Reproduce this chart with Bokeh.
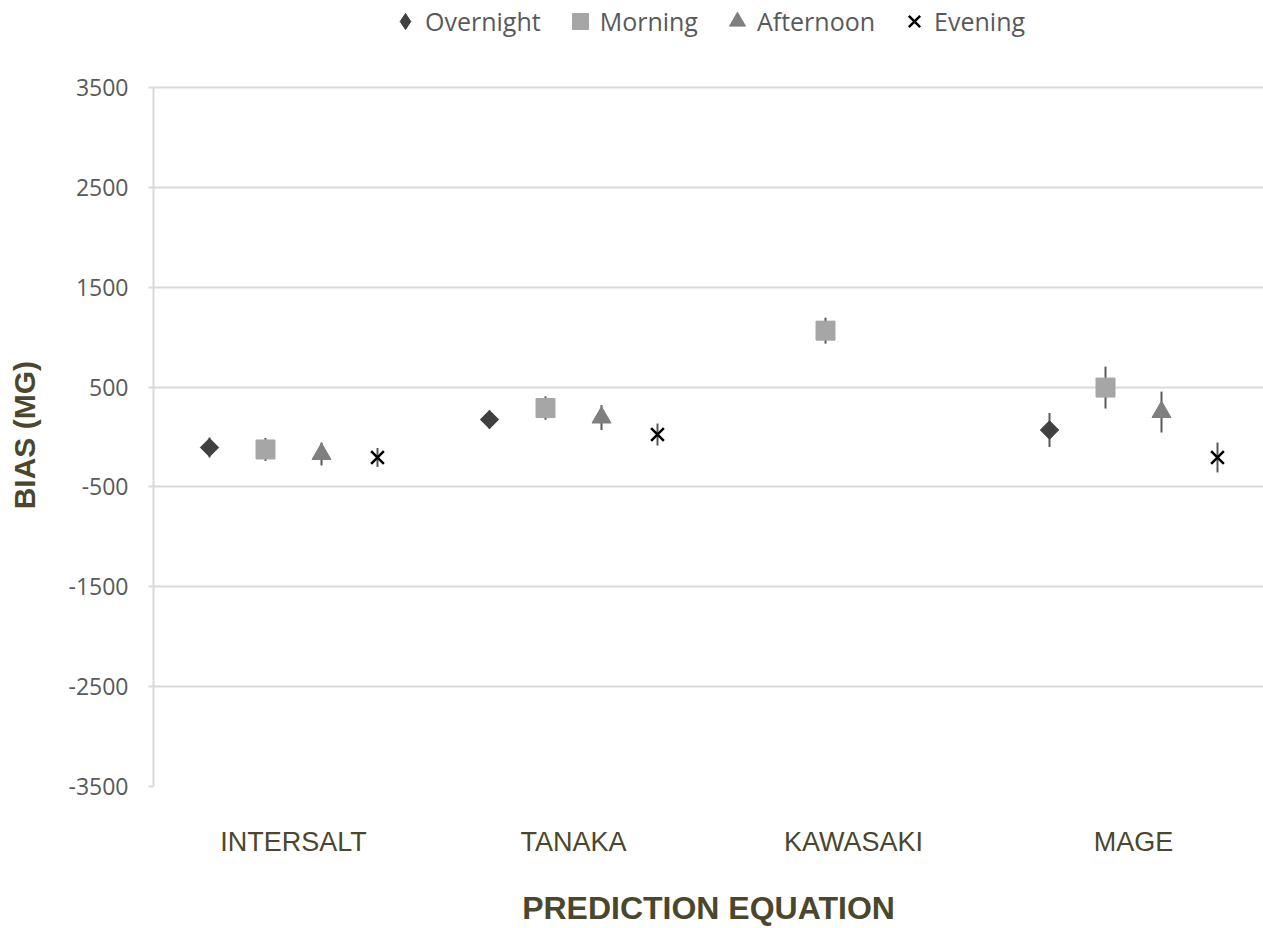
import numpy as np
from bokeh.plotting import figure
from bokeh.models import (Range1d, FixedTicker, Legend, LegendItem, ColumnDataSource)
from bokeh.embed import file_html
from bokeh.resources import INLINE

# ---- data ----
categories = ["INTERSALT", "TANAKA", "KAWASAKI", "MAGE"]
series_names = ["Overnight", "Morning", "Afternoon", "Evening"]
overnight = [-105, 175, np.nan, 70]
overnight_err = [100, 90, np.nan, 170]
morning = [-125, 290, 1065, 495]
morning_err = [115, 117, 130, 210]
afternoon = [-170, 195, np.nan, 250]
afternoon_err = [115, 125, np.nan, 205]
evening = [-205, 25, np.nan, -205]
evening_err = [95, 110, np.nan, 150]
y_ticks = [-3500, -2500, -1500, -500, 500, 1500, 2500, 3500]
y_tick_labels = ["-3500", "-2500", "-1500", "-500", "500", "1500", "2500", "3500"]
y_min, y_max = -3500, 3500

offsets = [-0.3, -0.1, 0.1, 0.3]
values = [overnight, morning, afternoon, evening]
errors = [overnight_err, morning_err, afternoon_err, evening_err]

# ---- styles / layout ----
styles = [
    dict(marker="square", size=13, angle=np.pi / 4, color="#404040"),
    dict(marker="square", size=19, angle=0.0, color="#a6a6a6"),
    dict(marker="triangle", size=19, angle=0.0, color="#7f7f7f"),
    dict(marker="x", size=18, angle=0.0, color="#000000"),
]
bar_color = "#595959"
grid_color = "#d9d9d9"
olive = "#4b472d"

W, H = 1263, 928
plot_top_px, plot_h_px, bottom_px, left_px = 87, 699, 142, 153
# extend the y range upward so the frame also holds the legend strip
y_top = y_max + plot_top_px * (y_max - y_min) / plot_h_px

p = figure(width=W, height=H, output_backend="svg", toolbar_location=None,
           x_range=Range1d(0, (W - left_px) / 280.0), y_range=Range1d(y_min, y_top),
           min_border_left=left_px, min_border_top=0, min_border_right=0,
           min_border_bottom=bottom_px)
p.outline_line_color = None
p.background_fill_color = "white"
p.border_fill_color = "white"

centers = np.arange(len(categories)) + 0.5

legend_items = []
for name, vals, errs, off, st in zip(series_names, values, errors, offsets, styles):
    v = np.array(vals, dtype=float)
    e = np.array(errs, dtype=float)
    mask = ~np.isnan(v)
    xs = centers[mask] + off
    src = ColumnDataSource(dict(x=xs, y=v[mask], lo=v[mask] - e[mask], hi=v[mask] + e[mask]))
    p.segment(x0="x", y0="lo", x1="x", y1="hi", source=src, line_color=bar_color, line_width=2)
    if st["marker"] == "x":
        r = p.scatter(x="x", y="y", source=src, marker="x", size=st["size"],
                      line_color=st["color"], line_width=2.5)
    elif st["angle"] != 0:
        # legend glyph (diamond) sits hidden underneath the rotated square
        r = p.scatter(x="x", y="y", source=src, marker="diamond", size=17,
                      fill_color=st["color"], line_color=st["color"], line_width=1)
        p.scatter(x="x", y="y", source=src, marker=st["marker"], size=st["size"],
                  angle=st["angle"], fill_color=st["color"], line_color=st["color"],
                  line_width=1)
    else:
        r = p.scatter(x="x", y="y", source=src, marker=st["marker"], size=st["size"],
                      fill_color=st["color"], line_color=st["color"], line_width=1)
    legend_items.append(LegendItem(label=name, renderers=[r]))

# ---- axes ----
yt = FixedTicker(ticks=y_ticks)
p.yaxis.ticker = yt
p.yaxis.bounds = (y_min, y_max)
p.yaxis.major_label_overrides = {t: s for t, s in zip(y_ticks, y_tick_labels)}
p.ygrid.ticker = yt
p.ygrid.grid_line_color = grid_color
p.ygrid.grid_line_width = 2
p.xgrid.visible = False

p.yaxis.axis_line_color = grid_color
p.yaxis.axis_line_width = 2
p.yaxis.major_tick_line_color = grid_color
p.yaxis.major_tick_line_width = 2
p.yaxis.major_tick_out = 5
p.yaxis.major_tick_in = 0
p.yaxis.minor_tick_line_color = None
p.yaxis.major_label_text_font = "Open Sans"
p.yaxis.major_label_text_font_size = "23px"
p.yaxis.major_label_text_color = "#595959"
p.yaxis.major_label_standoff = 20
# trailing no-break spaces shift the centred title down to the plot area's middle
p.yaxis.axis_label = "BIAS (MG)" + "\u00a0" * 10
p.yaxis.axis_label_text_font = "Liberation Sans"
p.yaxis.axis_label_text_font_style = "bold"
p.yaxis.axis_label_text_font_size = "30px"
p.yaxis.axis_label_text_color = olive
p.yaxis.axis_label_standoff = 24

p.xaxis.ticker = FixedTicker(ticks=list(centers))
p.xaxis.major_label_overrides = {float(c): cat for c, cat in zip(centers, categories)}
p.xaxis.axis_line_color = None
p.xaxis.major_tick_line_color = None
p.xaxis.minor_tick_line_color = None
p.xaxis.major_tick_out = 0
p.xaxis.major_tick_in = 0
p.xaxis.major_label_text_font = "Liberation Sans"
p.xaxis.major_label_text_font_size = "27px"
p.xaxis.major_label_text_color = olive
p.xaxis.major_label_standoff = 40
p.xaxis.axis_label = "PREDICTION EQUATION"
p.xaxis.axis_label_text_font = "Liberation Sans"
p.xaxis.axis_label_text_font_style = "bold"
p.xaxis.axis_label_text_font_size = "32px"
p.xaxis.axis_label_text_color = olive
p.xaxis.axis_label_standoff = 30

# ---- legend (inside the extended frame, above the 3500 line) ----
legend = Legend(items=legend_items, orientation="horizontal",
                location=(232, plot_top_px + plot_h_px - 41),
                glyph_width=40, glyph_height=40, label_standoff=0, spacing=19,
                padding=0, margin=0, border_line_color=None, background_fill_alpha=0,
                label_text_font="Open Sans", label_text_font_size="25px",
                label_text_color="#595959")
p.add_layout(legend)

open("out.html", "w").write(file_html(p, INLINE))
